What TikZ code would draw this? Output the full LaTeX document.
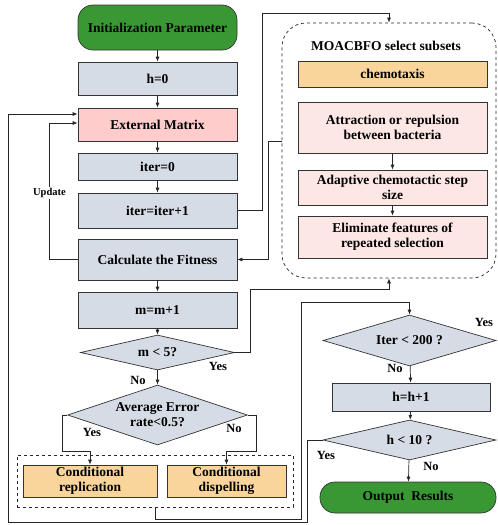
\documentclass[tikz,border=0pt]{standalone}
\usepackage{fontspec}
\setmainfont{Liberation Serif}
\usetikzlibrary{shapes.geometric,arrows.meta}
\definecolor{startgreen}{RGB}{58,152,52}
\definecolor{procgray}{RGB}{214,220,229}
\definecolor{matrixpink}{RGB}{255,204,204}
\definecolor{lightpink}{RGB}{253,231,229}
\definecolor{condorange}{RGB}{249,213,155}
\begin{document}
\begin{tikzpicture}[x=1pt, y=-1pt,
    base/.style={draw=black!80, line width=0.7pt, font=\fontsize{13.5}{15}\selectfont\bfseries, align=center, inner sep=1pt},
    terminal/.style={base, fill=startgreen, rounded corners=15pt},
    process/.style={base, fill=procgray, minimum width=159pt},
    decision/.style={base, diamond, fill=procgray, inner sep=0pt},
    subbox/.style={base, fill=lightpink, minimum width=189pt},
    condbox/.style={base, fill=condorange},
    line/.style={draw=black!85, line width=0.7pt},
    arrow/.style={line, -{Latex[length=5pt,width=4pt]}},
    lbl/.style={font=\fontsize{12.5}{14}\selectfont\bfseries, inner sep=1pt}]
    \useasboundingbox (0,0) rectangle (498,525);
    \node[terminal, minimum width=159pt, minimum height=45pt] (init) at (157.5,27.5) {Initialization Parameter};
    \node[process, minimum height=33pt] (h0) at (157.5,78.5) {h=0};
    \node[process, minimum height=33pt, fill=matrixpink] (ext) at (157.5,124.5) {External Matrix};
    \node[process, minimum height=27pt] (iter0) at (157.5,166.5) {iter=0};
    \node[process, minimum height=35pt] (iterinc) at (157.5,210.5) {iter=iter+1};
    \node[process, minimum height=41pt] (fit) at (157.5,259.5) {Calculate the Fitness};
    \node[process, minimum height=36pt] (minc) at (157.5,310) {m=m+1};
    \node[decision, minimum width=154pt, minimum height=35pt, aspect=4] (mcheck) at (157.5,352.5) {m < 5?};
    \node[decision, minimum width=180pt, minimum height=60pt, aspect=3] (avg) at (157.5,415) {Average Error\\rate<0.5?};
    \node[draw=black!85, line width=0.7pt, dashed, minimum width=276pt, minimum height=52pt] (condgroup) at (155,481) {};
    \node[condbox, minimum width=134pt, minimum height=32pt] (repl) at (90,481) {Conditional\\replication};
    \node[condbox, minimum width=119pt, minimum height=32pt] (disp) at (226.5,481) {Conditional\\dispelling};

    \node[draw=black!85, line width=0.7pt, dashed, rounded corners=24pt, minimum width=214pt, minimum height=255pt] (moa) at (389,150.5) {};
    \node[font=\fontsize{13.5}{15}\selectfont\bfseries] (moatitle) at (386,46) {MOACBFO select subsets};
    \node[subbox, minimum height=26pt, fill=condorange] (chemo) at (392.5,74) {chemotaxis};
    \node[subbox, minimum height=51pt] (attract) at (392.5,127.5) {Attraction or repulsion\\between bacteria};
    \node[subbox, minimum height=35pt] (adapt) at (392.5,187.5) {Adaptive chemotactic step\\size};
    \node[subbox, minimum height=42pt] (elim) at (392.5,237) {Eliminate features of\\repeated selection};

    \node[decision, minimum width=173pt, minimum height=51pt, aspect=3.4] (icheck) at (409.5,340.5) {Iter < 200 ?};
    \node[process, minimum width=158pt, minimum height=28pt] (hinc) at (411,397) {h=h+1};
    \node[decision, minimum width=173pt, minimum height=40pt, aspect=4.3] (hcheck) at (409.5,440) {h < 10 ?};
    \node[terminal, minimum width=176pt, minimum height=31pt] (output) at (408,497.5) {Output\ \ Results};

    \coordinate (outerleft) at (8,114);
    \coordinate (riseA) at (301,302);

    \draw[arrow] (init) -- (h0);
    \draw[arrow] (h0) -- (ext);
    \draw[arrow] (ext) -- (iter0);
    \draw[arrow] (iter0) -- (iterinc);
    \draw[arrow] (fit) -- (minc);
    \draw[arrow] (minc) -- (mcheck);
    \draw[arrow] (mcheck) -- (avg);
    \draw[arrow] (attract) -- (adapt);
    \draw[arrow] (adapt) -- (elim);
    \draw[arrow] (icheck) -- (hinc);
    \draw[arrow] (hinc) -- (hcheck);
    \draw[arrow] (hcheck) -- (output);

    \draw[arrow] (iterinc.east) -- ++(25,0) |- ([yshift=9pt]moa.north) -- (moa.north);
    \draw[arrow] ([yshift=9.5pt]moa.west) -- ++(-13,0) |- (fit.east);
    \draw[arrow] (fit.west) -- ++(-28,0) |- ([yshift=1.5pt]ext.west);
    \node[lbl, fill=white, font=\fontsize{10.5}{12}\selectfont\bfseries] (update) at (49.5,193) {Update};
    \draw[arrow] (hcheck.west) -| (307,522) -| (outerleft) -- (outerleft -| ext.west);
    \draw[arrow] (mcheck.east) -- ++(15,0) |- ([yshift=-11pt]moa.south) -- (moa.south);
    \draw[arrow] (avg.west) -- ++(-5,0) |- ([yshift=13pt]repl.north) -- (repl.north);
    \draw[arrow] (avg.east) -- ++(8,0) |- ([yshift=13pt]disp.north) -- (disp.north);
    \draw[arrow] (condgroup.south) -- ++(0,12) -| (riseA) -| (icheck.north);

    \node[lbl] (yesm) at (218,366) {Yes};
    \node[lbl] (nom) at (138,380) {No};
    \node[lbl] (yesavg) at (92,432) {Yes};
    \node[lbl] (noavg) at (234,428) {No};
    \node[lbl] (yesi) at (484,322) {Yes};
    \node[lbl] (noi) at (395,368) {No};
    \node[lbl] (yesh) at (326,455) {Yes};
    \node[lbl] (noh) at (431,466) {No};
\end{tikzpicture}
\end{document}
